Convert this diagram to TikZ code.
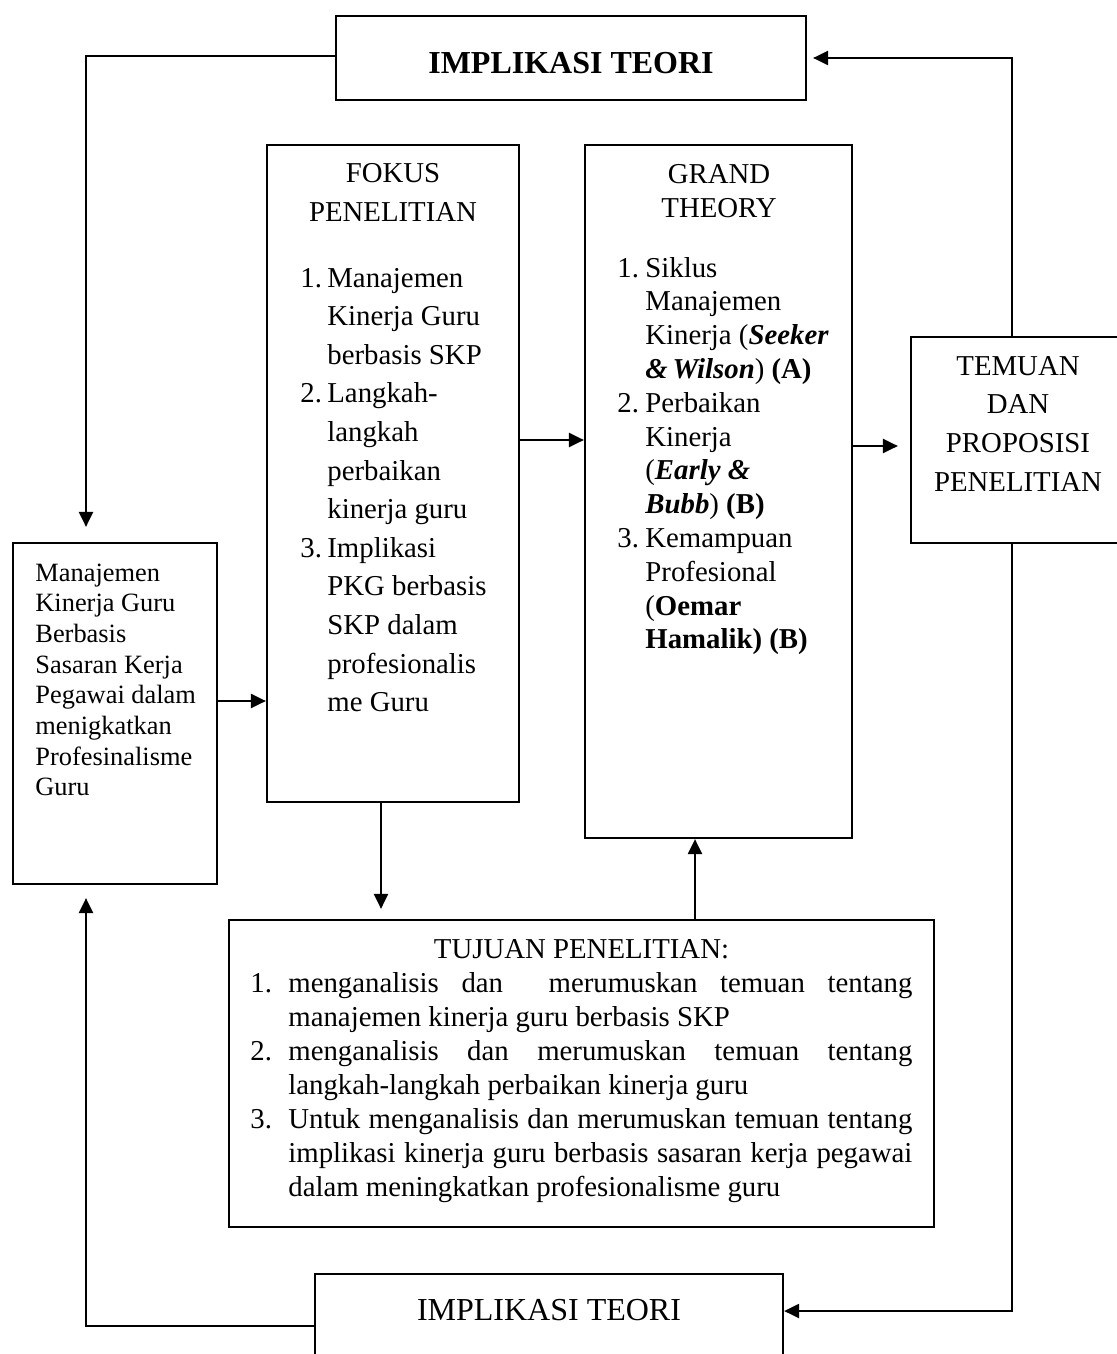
\documentclass[tikz,border=0pt]{standalone}
\usepackage{fontspec}
\setmainfont{Liberation Serif}
\usetikzlibrary{arrows.meta,calc}
\newcommand\CL[2]{\hbox to #1{\hss #2\hss}}
\newcommand\NL[3]{\hbox{\hbox to #1{#2\hss}#3}}
\newcommand\IL[2]{\hbox{\hskip #1\relax #2}}
\newcommand\JL[3]{\hbox{\hbox to #1{#2\hss}\hbox to 312pt{#3}}}
\newcommand\Blk[2]{\vtop{\baselineskip=#1\relax\lineskiplimit=-100pt\relax #2}}
\newcommand\fsz[2]{\fontsize{#1}{#2}\selectfont}
\tikzset{
  box/.style={draw, line width=1.1pt, rectangle, inner sep=0pt},
  arr/.style={line width=1.1pt, -{Triangle[length=7.5pt,width=7pt]}},
  txt/.style={inner sep=0pt, anchor=base west},
  ctxt/.style={inner sep=0pt, anchor=base},
  main/.style={font=\fsz{14.4pt}{17pt}}
}
\begin{document}
\begin{tikzpicture}[x=0.5pt,y=-0.5pt]
\fill[white] (0,0) rectangle (1117,1354);
\useasboundingbox (0,0) rectangle (1117,1354);

% boxes
\node[box, minimum width=235pt, minimum height=42pt] (top) at (571,58) {};
\node[box, minimum width=102pt, minimum height=170.5pt] (left) at (115,713.5) {};
\node[box, minimum width=126pt, minimum height=328.5pt] (fok) at (393,473.5) {};
\node[box, minimum width=133.5pt, minimum height=346.5pt] (grand) at (718.5,491.5) {};
\node[box, minimum width=108pt, minimum height=103pt] (tem) at (1019,440) {};
\node[box, minimum width=352.5pt, minimum height=153.5pt] (tuj) at (581.5,1073.5) {};
\node[box, minimum width=234pt, minimum height=50pt] (bot) at (549,1324) {};

% texts
\node[ctxt, font=\fsz{16pt}{19pt}\bfseries] (topT) at (571,74) {IMPLIKASI TEORI};
\node[ctxt, font=\fsz{16pt}{19pt}] (botT) at (549,1320) {IMPLIKASI TEORI};

\node[txt, font=\fsz{13.2pt}{15.35pt}] (leftT) at (35,581) {\Blk{15.35pt}{%
  \hbox{Manajemen}\hbox{Kinerja Guru}\hbox{Berbasis}\hbox{Sasaran Kerja}%
  \hbox{Pegawai dalam}\hbox{menigkatkan}\hbox{Profesinalisme}\hbox{Guru}}};

\node[ctxt, main] (fokH) at (393,183) {\Blk{19.5pt}{\CL{0pt}{FOKUS}\CL{0pt}{PENELITIAN}}};
\node[txt, main] (fokL) at (300,287) {\Blk{19.3pt}{%
  \NL{13.5pt}{1.}{Manajemen}\IL{13.5pt}{Kinerja Guru}\IL{13.5pt}{berbasis SKP}%
  \NL{13.5pt}{2.}{Langkah-}\IL{13.5pt}{langkah}\IL{13.5pt}{perbaikan}\IL{13.5pt}{kinerja guru}%
  \NL{13.5pt}{3.}{Implikasi}\IL{13.5pt}{PKG berbasis}\IL{13.5pt}{SKP dalam}%
  \IL{13.5pt}{profesionalis}\IL{13.5pt}{me Guru}}};

\node[ctxt, main] (grH) at (719,184) {\Blk{17pt}{\CL{0pt}{GRAND}\CL{0pt}{THEORY}}};
\node[txt, main] (grL) at (617,277) {\Blk{16.9pt}{%
  \NL{14pt}{1.}{Siklus}\IL{14pt}{Manajemen}%
  \IL{14pt}{Kinerja (\textbf{\textit{Seeker}}}%
  \IL{14pt}{\textbf{\textit{\&\,Wilson}}) \textbf{(A)}}%
  \NL{14pt}{2.}{Perbaikan}\IL{14pt}{Kinerja}%
  \IL{14pt}{(\textbf{\textit{Early \&}}}%
  \IL{14pt}{\textbf{\textit{Bubb}}) \textbf{(B)}}%
  \NL{14pt}{3.}{Kemampuan}\IL{14pt}{Profesional}%
  \IL{14pt}{(\textbf{Oemar}}%
  \IL{14pt}{\textbf{Hamalik) (B)}}}};

\node[ctxt, main] (temT) at (1018,375) {\Blk{19.4pt}{%
  \CL{0pt}{TEMUAN}\CL{0pt}{DAN}\CL{0pt}{PROPOSISI}\CL{0pt}{PENELITIAN}}};

\node[ctxt, main] (tujH) at (581.5,958) {TUJUAN PENELITIAN:};
\node[txt, main] (tujL) at (250,992) {\Blk{17pt}{%
  \JL{19pt}{1.}{menganalisis dan\ \ merumuskan temuan tentang}%
  \IL{19pt}{manajemen kinerja guru berbasis SKP}%
  \JL{19pt}{2.}{menganalisis dan merumuskan temuan tentang}%
  \IL{19pt}{langkah-langkah perbaikan kinerja guru}%
  \JL{19pt}{3.}{Untuk menganalisis dan merumuskan temuan tentang}%
  \JL{19pt}{}{implikasi kinerja guru berbasis sasaran kerja pegawai}%
  \IL{19pt}{dalam meningkatkan profesionalisme guru}}};

% helper coordinates
\coordinate (lx) at (86,0);
\coordinate (rx) at (1012,0);
\coordinate (yA) at (0,440);
\coordinate (yB) at (0,446);
\coordinate (xC) at (381,0);
\coordinate (xD) at (695,0);
\coordinate (a5) at ($(left.east)+(0,-12.5)$);
\coordinate (a1) at ($(top.west)+(0,-2)$);
\coordinate (a3) at ($(bot.east)+(0,-13)$);
\coordinate (a4) at ($(bot.west)+(0,2)$);

% connectors
\draw[arr, shorten >=7.5pt] (a1) -| (lx |- left.north);
\draw[arr, shorten >=3pt] (rx |- tem.north) |- (top.east);
\draw[arr] (rx |- tem.south) |- (a3);
\draw[arr, shorten >=6.5pt] (a4) -| (lx |- left.south);
\draw[arr] (a5) -- (fok.west |- a5);
\draw[arr] (fok.east |- yA) -- (grand.west |- yA);
\draw[arr, shorten >=6pt] (grand.east |- yB) -- (tem.west |- yB);
\draw[arr, shorten >=5pt] (xC |- fok.south) -- (xC |- tuj.north);
\draw[arr] (xD |- tuj.north) -- (xD |- grand.south);
\end{tikzpicture}
\end{document}
